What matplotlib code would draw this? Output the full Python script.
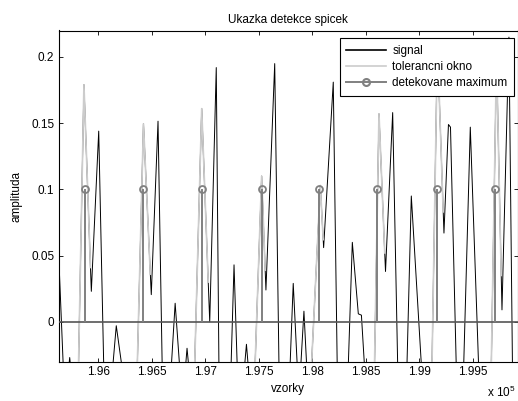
import matplotlib
matplotlib.use('Agg')
import matplotlib.pyplot as plt
import numpy as np
from matplotlib.lines import Line2D

# ---------------- data ----------------
sig_x = [195605, 195673, 195724, 195733, 195741, 195815, 195866, 195935, 196004, 196051,
         196135, 196168, 196221, 196364, 196422, 196495, 196558, 196597, 196682, 196718,
         196760, 196815, 196829, 196845, 196900, 196966, 197041, 197102, 197127, 197240,
         197268, 197298, 197366, 197384, 197401, 197464, 197526, 197566, 197648, 197688,
         197791, 197821, 197859, 197891, 197921, 197947, 197991, 198074, 198105, 198195,
         198232, 198335, 198373, 198429, 198458, 198487, 198580, 198622, 198683, 198750,
         198797, 198883, 198924, 199019, 199117, 199168, 199229, 199271, 199290, 199344,
         199413, 199475, 199553, 199671, 199720, 199771, 199836, 199869, 199939]
sig_y = [0.100, -0.034, -0.034, -0.027, -0.034, -0.034, 0.179, 0.023, 0.144, -0.034,
         -0.034, -0.003, -0.034, -0.034, 0.1495, 0.0205, 0.1515, -0.034, -0.034, 0.014,
         -0.034, -0.034, -0.020, -0.034, -0.034, 0.161, 0.000, 0.192, -0.034, -0.034,
         0.043, -0.034, -0.034, -0.017, -0.034, -0.034, 0.110, 0.024, 0.195, -0.034,
         -0.034, 0.029, -0.034, -0.034, 0.008, -0.034, -0.034, 0.103, 0.056, 0.181,
         -0.034, -0.034, 0.060, 0.006, 0.005, -0.034, -0.034, 0.157, 0.038, 0.158,
         -0.034, -0.034, 0.095, -0.034, -0.034, 0.210, 0.067, 0.149, 0.147, -0.034,
         -0.034, 0.147, -0.034, -0.034, 0.200, 0.009, 0.215, -0.034, -0.034]

nan = np.nan
tol_x = [195815, 195866, 195927, nan,
         196364, 196422, 196486, nan,
         196900, 196966, 197027, nan,
         197464, 197526, 197559, nan,
         197991, 198074, 198101, nan,
         198580, 198622, 198676, nan,
         199117, 199168, 199222, nan,
         199671, 199720, 199764]
tol_y = [-0.034, 0.179, 0.041, nan,
         -0.034, 0.1495, 0.036, nan,
         -0.034, 0.161, 0.030, nan,
         -0.034, 0.110, 0.039, nan,
         -0.034, 0.103, 0.062, nan,
         -0.034, 0.157, 0.052, nan,
         -0.034, 0.210, 0.083, nan,
         -0.034, 0.200, 0.035]

det_x = [195874, 196418, 196969, 197526, 198064, 198608, 199164, 199710]
det_y = [0.1, 0.1, 0.1, 0.1, 0.1, 0.1, 0.1, 0.1]

xticks = [196000, 196500, 197000, 197500, 198000, 198500, 199000, 199500]
xtick_labels = ['1.96', '1.965', '1.97', '1.975', '1.98', '1.985', '1.99', '1.995']
yticks = [0, 0.05, 0.1, 0.15, 0.2]
ytick_labels = ['0', '0.05', '0.1', '0.15', '0.2']
legend_labels = ['signal', 'tolerancni okno', 'detekovane maximum']

# ---------------- drawing ----------------
plt.rcParams['font.family'] = ['Liberation Sans', 'DejaVu Sans']
plt.rcParams['mathtext.default'] = 'regular'
plt.rcParams['font.size'] = 8.5

fig = plt.figure(figsize=(5.18, 4.01), dpi=100)
ax = fig.add_axes([59 / 518, (401 - 361.5) / 401, (517.5 - 59) / 518, 331 / 401])

c_sig = 'black'
c_tol = '#cccccc'
c_det = '#808080'
c_base = '#555555'

ax.plot(sig_x, sig_y, color=c_sig, lw=0.7, zorder=2)
ax.plot(tol_x, tol_y, color=c_tol, lw=1.2, zorder=3)
ax.axhline(0, color=c_base, lw=1.2, zorder=4)
ax.vlines(det_x, 0, det_y, color=c_det, lw=1.4, zorder=5)
ax.plot(det_x, det_y, 'o', ms=5, mfc='none', mec=c_det, mew=1.3, zorder=6)

ax.set_xlim(195633, 199916)
ax.set_ylim(-0.03, 0.22)
ax.set_xticks(xticks)
ax.set_xticklabels(xtick_labels)
ax.set_yticks(yticks)
ax.set_yticklabels(ytick_labels)
ax.tick_params(direction='in', top=True, right=True, length=2.6, width=0.6,
               pad=3.5, labelsize=8.5, colors='black')
for s in ax.spines.values():
    s.set_linewidth(0.8)
    s.set_color('black')

ax.set_title('Ukazka detekce spicek', fontsize=8.5, pad=5.5)
ax.set_xlabel('vzorky', labelpad=3)
ax.set_ylabel('amplituda', labelpad=6)

fig.text(487 / 518, (401 - 397) / 401, r'x 10$^5$', ha='left', va='baseline', fontsize=8.5)

handles = [Line2D([], [], color=c_sig, lw=1.2),
           Line2D([], [], color=c_tol, lw=1.2),
           Line2D([], [], color=c_det, lw=1.4, marker='o', ms=5, mfc='none',
                  mec=c_det, mew=1.5)]
leg = ax.legend(handles, legend_labels, loc='upper right',
                bbox_to_anchor=(514 / 518, (401 - 38.3) / 401),
                bbox_transform=fig.transFigure, borderaxespad=0,
                fancybox=False, framealpha=1, edgecolor='black',
                handlelength=3.4, handletextpad=0.5, labelspacing=0.35,
                borderpad=0.55, numpoints=1, fontsize=8.5)
leg.get_frame().set_linewidth(0.8)
leg.set_zorder(10)

fig.savefig('out.png', dpi=100)
